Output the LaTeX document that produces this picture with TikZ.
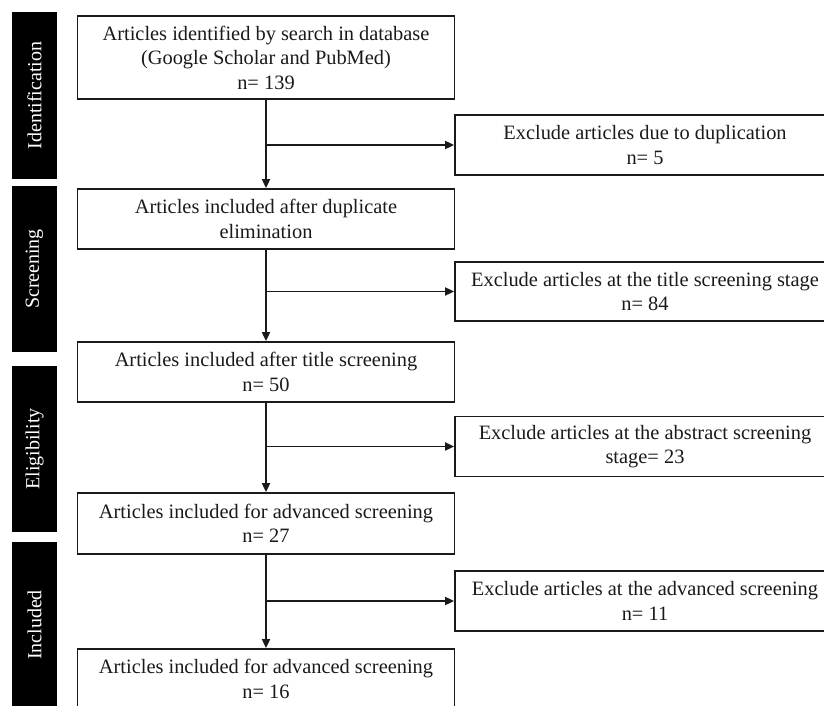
\documentclass[tikz,border=0pt]{standalone}
\usepackage{fontspec}
\setmainfont{Liberation Serif}
\usetikzlibrary{arrows.meta}
\definecolor{inkgray}{HTML}{1A1A1A}
\tikzset{
  mainbox/.style={draw=inkgray, line width=1.8pt, text=inkgray, align=center,
    minimum width=377pt, inner sep=0pt, font=\fontsize{20.4}{24.5}\selectfont},
  exclbox/.style={mainbox, minimum width=380pt},
  phase/.style={fill=black, text=white, rotate=90, minimum width=166pt,
    minimum height=45pt, inner sep=0pt, font=\fontsize{20}{24}\selectfont},
  flow/.style={draw=inkgray, line width=1.8pt, -{Triangle[length=9pt,width=8pt]}},
}
\begin{document}
\begin{tikzpicture}[x=1pt,y=1pt]
    \clip (0,0) rectangle (824,-706);
    % Phases
    \node[phase] (ident) at (34.5,-95.5) {Identification};
    \node[phase] (screen) at (34.5,-269) {Screening};
    \node[phase] (elig) at (34.5,-449) {Eligibility};
    \node[phase] (incl) at (34.5,-625) {Included};
    % Included articles
    \node[mainbox, minimum height=83pt] (found) at (266,-57.5) {Articles identified by search in database\\(Google Scholar and PubMed)\\n= 139};
    \node[mainbox, minimum height=60pt] (dedup) at (266,-219) {Articles included after duplicate\\elimination};
    \node[mainbox, minimum height=60pt] (titled) at (266,-372) {Articles included after title screening\\n= 50};
    \node[mainbox, minimum height=61pt] (advanced) at (266,-523.5) {Articles included for advanced screening\\n= 27};
    \node[mainbox, minimum height=60pt] (final) at (266,-679) {Articles included for advanced screening\\n= 16};
    % Excluded articles
    \node[exclbox, minimum height=60pt] (exdup) at (645,-145) {Exclude articles due to duplication\\n= 5};
    \node[exclbox, minimum height=59pt] (extitle) at (645,-291.5) {Exclude articles at the title screening stage\\n= 84};
    \node[exclbox, minimum height=60pt] (exabstract) at (645,-446.5) {Exclude articles at the abstract screening\\stage= 23};
    \node[exclbox, minimum height=60pt] (exadvanced) at (645,-601) {Exclude articles at the advanced screening\\n= 11};
    % Flow
    \draw[flow] (found) -- (dedup);
    \draw[flow] (dedup) -- (titled);
    \draw[flow] (titled) -- (advanced);
    \draw[flow] (advanced) -- (final);
    \draw[flow] (found.south |- exdup.west) -- (exdup.west);
    \draw[flow] (dedup.south |- extitle.west) -- (extitle.west);
    \draw[flow] (titled.south |- exabstract.west) -- (exabstract.west);
    \draw[flow] (advanced.south |- exadvanced.west) -- (exadvanced.west);
\end{tikzpicture}
\end{document}
